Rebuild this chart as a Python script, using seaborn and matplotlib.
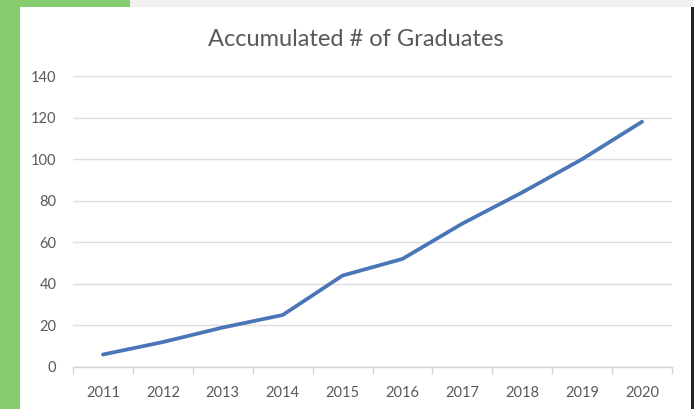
import matplotlib
matplotlib.use("Agg")
import matplotlib.pyplot as plt
import matplotlib.patches as mpatches
from matplotlib.ticker import FixedLocator
import seaborn as sns
import pandas as pd

years = ["2011", "2012", "2013", "2014", "2015", "2016", "2017", "2018", "2019", "2020"]
graduates = [6, 12, 19, 25, 44, 52, 69, 84, 100, 118]
y_ticks = [0, 20, 40, 60, 80, 100, 120, 140]
title = "Accumulated # of Graduates"

sns.set_theme(style="white")
plt.rcParams["font.family"] = ["Lato", "DejaVu Sans"]

W, H = 696, 409
fig = plt.figure(figsize=(W / 100, H / 100), dpi=100)
fig.patch.set_facecolor("white")

# background decorations
def px_rect(x0, y0, x1, y1, color, z=0):
    fig.patches.append(mpatches.Rectangle((x0 / W, 1 - y1 / H), (x1 - x0) / W, (y1 - y0) / H,
                                          transform=fig.transFigure, facecolor=color,
                                          edgecolor="none", zorder=z))

px_rect(0, 0, 20, H, "#85cd6e")
px_rect(0, 0, 130, 7, "#85cd6e")
px_rect(130, 0, 693, 7, "#f0f0f0")
px_rect(691, 7, 694, H, "#222222")

ax = fig.add_axes([73 / W, (H - 367) / H, (672 - 73) / W, (367 - 76) / H])
ax.set_facecolor("none")

df = pd.DataFrame({"Year": years, "Graduates": graduates})
sns.lineplot(data=df, x="Year", y="Graduates", ax=ax, color="#4a76b8", linewidth=2.7, sort=False)

ax.set_xlim(-0.5, len(years) - 0.5)
ax.set_ylim(0, 140)
ax.set_yticks(y_ticks)
ax.set_yticklabels([str(v) for v in y_ticks])
ax.set_xlabel("")
ax.set_ylabel("")

ax.grid(axis="y", color="#dedede", linewidth=1.0)
ax.set_axisbelow(True)
for s in ["top", "right", "left"]:
    ax.spines[s].set_visible(False)
ax.spines["bottom"].set_color("#d4d4d4")
ax.spines["bottom"].set_linewidth(1.0)

ax.xaxis.set_minor_locator(FixedLocator([i - 0.5 for i in range(len(years) + 1)]))
ax.tick_params(axis="x", which="major", length=0, pad=14, labelsize=10.5, labelcolor="#595959")
ax.tick_params(axis="x", which="minor", length=5, width=1, color="#d4d4d4", direction="out", bottom=True)
ax.tick_params(axis="y", length=0, pad=12, labelsize=10.5, labelcolor="#595959")

fig.text(356 / W, 1 - 39 / H, title, ha="center", va="center", fontsize=17, color="#595959")

fig.savefig("out.png", dpi=100)
